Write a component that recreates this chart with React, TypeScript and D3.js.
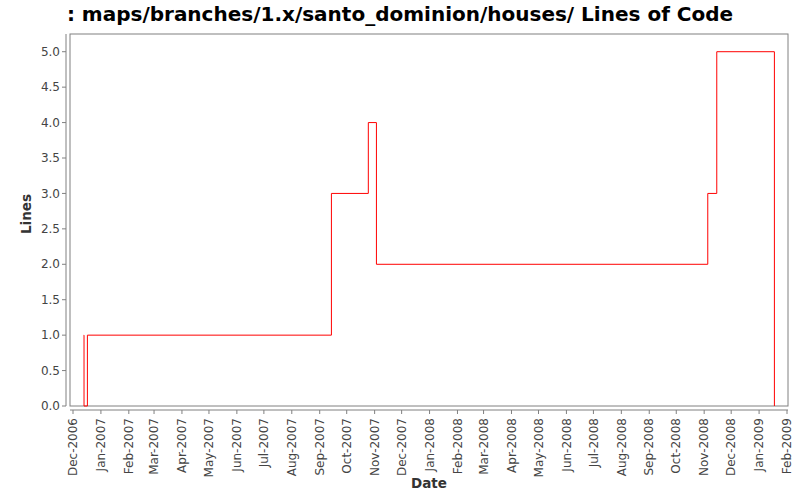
import * as d3 from 'd3'

const title = ': maps/branches/1.x/santo_dominion/houses/ Lines of Code'
const xLabel = 'Date'
const yLabel = 'Lines'

// step series: commit dates and line counts
const dates = [
  '2006-12-13T00:00', '2006-12-13T06:00', '2006-12-17T00:00', '2007-09-14T00:00',
  '2007-10-25T00:00', '2007-11-03T00:00', '2008-11-05T00:00', '2008-11-15T00:00',
  '2009-01-18T00:00'
]
const lines = [1, 0, 1, 3, 4, 2, 3, 5, 0]

const yTicks = [0, 0.5, 1, 1.5, 2, 2.5, 3, 3.5, 4, 4.5, 5]

const W = 800
const H = 500
const plot = { left: 70, right: 788, top: 34, bottom: 406 }
const font = '"DejaVu Sans", sans-serif'
const axisColor = '#808080'
const textColor = '#444444'

export default function App() {
  const parse = d3.timeParse('%Y-%m-%dT%H:%M')
  const data = dates.map((d, i) => ({ date: parse(d) as Date, value: lines[i] }))

  // Dec 2006 tick sits at 73, Feb 2009 tick at 787
  const x = d3.scaleTime()
    .domain([new Date(2006, 11, 1), new Date(2009, 1, 1)])
    .range([73, 787])

  const y = d3.scaleLinear()
    .domain([0, 5.25])
    .range([plot.bottom, plot.top])

  const line = d3.line<{ date: Date; value: number }>()
    .x(d => x(d.date))
    .y(d => y(d.value))
    .curve(d3.curveStepAfter)

  const monthTicks = d3.timeMonth.range(new Date(2006, 11, 1), new Date(2009, 1, 2))
  const fmt = d3.timeFormat('%b-%Y')
  const xAxisY = plot.bottom + 4
  const yAxisX = plot.left - 4

  return (
    <svg width={W} height={H} style={{ position: 'absolute', left: 0, top: 0 }} fontFamily={font}>
      <rect x={0} y={0} width={W} height={H} fill="#ffffff" />
      <text x={W / 2} y={21} textAnchor="middle" fontSize={20} fontWeight="bold" fill="#000">
        {title}
      </text>

      {/* plot area */}
      <rect x={plot.left} y={plot.top} width={plot.right - plot.left} height={plot.bottom - plot.top}
        fill="#ffffff" stroke={axisColor} strokeWidth={1} />

      {/* y axis */}
      <line x1={yAxisX} x2={yAxisX} y1={plot.top} y2={plot.bottom} stroke={axisColor} />
      {yTicks.map(t => (
        <g key={t} transform={`translate(0,${y(t)})`}>
          <line x1={yAxisX - 4} x2={yAxisX} stroke={axisColor} />
          <text x={yAxisX - 6} dy="0.35em" textAnchor="end" fontSize={12} fill={textColor}>
            {t.toFixed(1)}
          </text>
        </g>
      ))}
      <text transform={`translate(31,214) rotate(-90)`} textAnchor="middle"
        fontSize={13.5} fontWeight="600" fill="#333">
        {yLabel}
      </text>

      {/* x axis */}
      <line x1={plot.left} x2={plot.right} y1={xAxisY} y2={xAxisY} stroke={axisColor} />
      {monthTicks.map(t => (
        <g key={t.getTime()} transform={`translate(${x(t)},${xAxisY})`}>
          <line y1={0} y2={4} stroke={axisColor} />
          <text transform="translate(0,8) rotate(-90)" dy="0.35em" textAnchor="end" fontSize={12} fill={textColor}>
            {fmt(t)}
          </text>
        </g>
      ))}
      <text x={(plot.left + plot.right) / 2} y={488} textAnchor="middle" fontSize={13.5} fontWeight="600" fill="#333">
        {xLabel}
      </text>

      <path d={line(data) || ''} fill="none" stroke="#ff0000" strokeWidth={1} />
    </svg>
  )
}
